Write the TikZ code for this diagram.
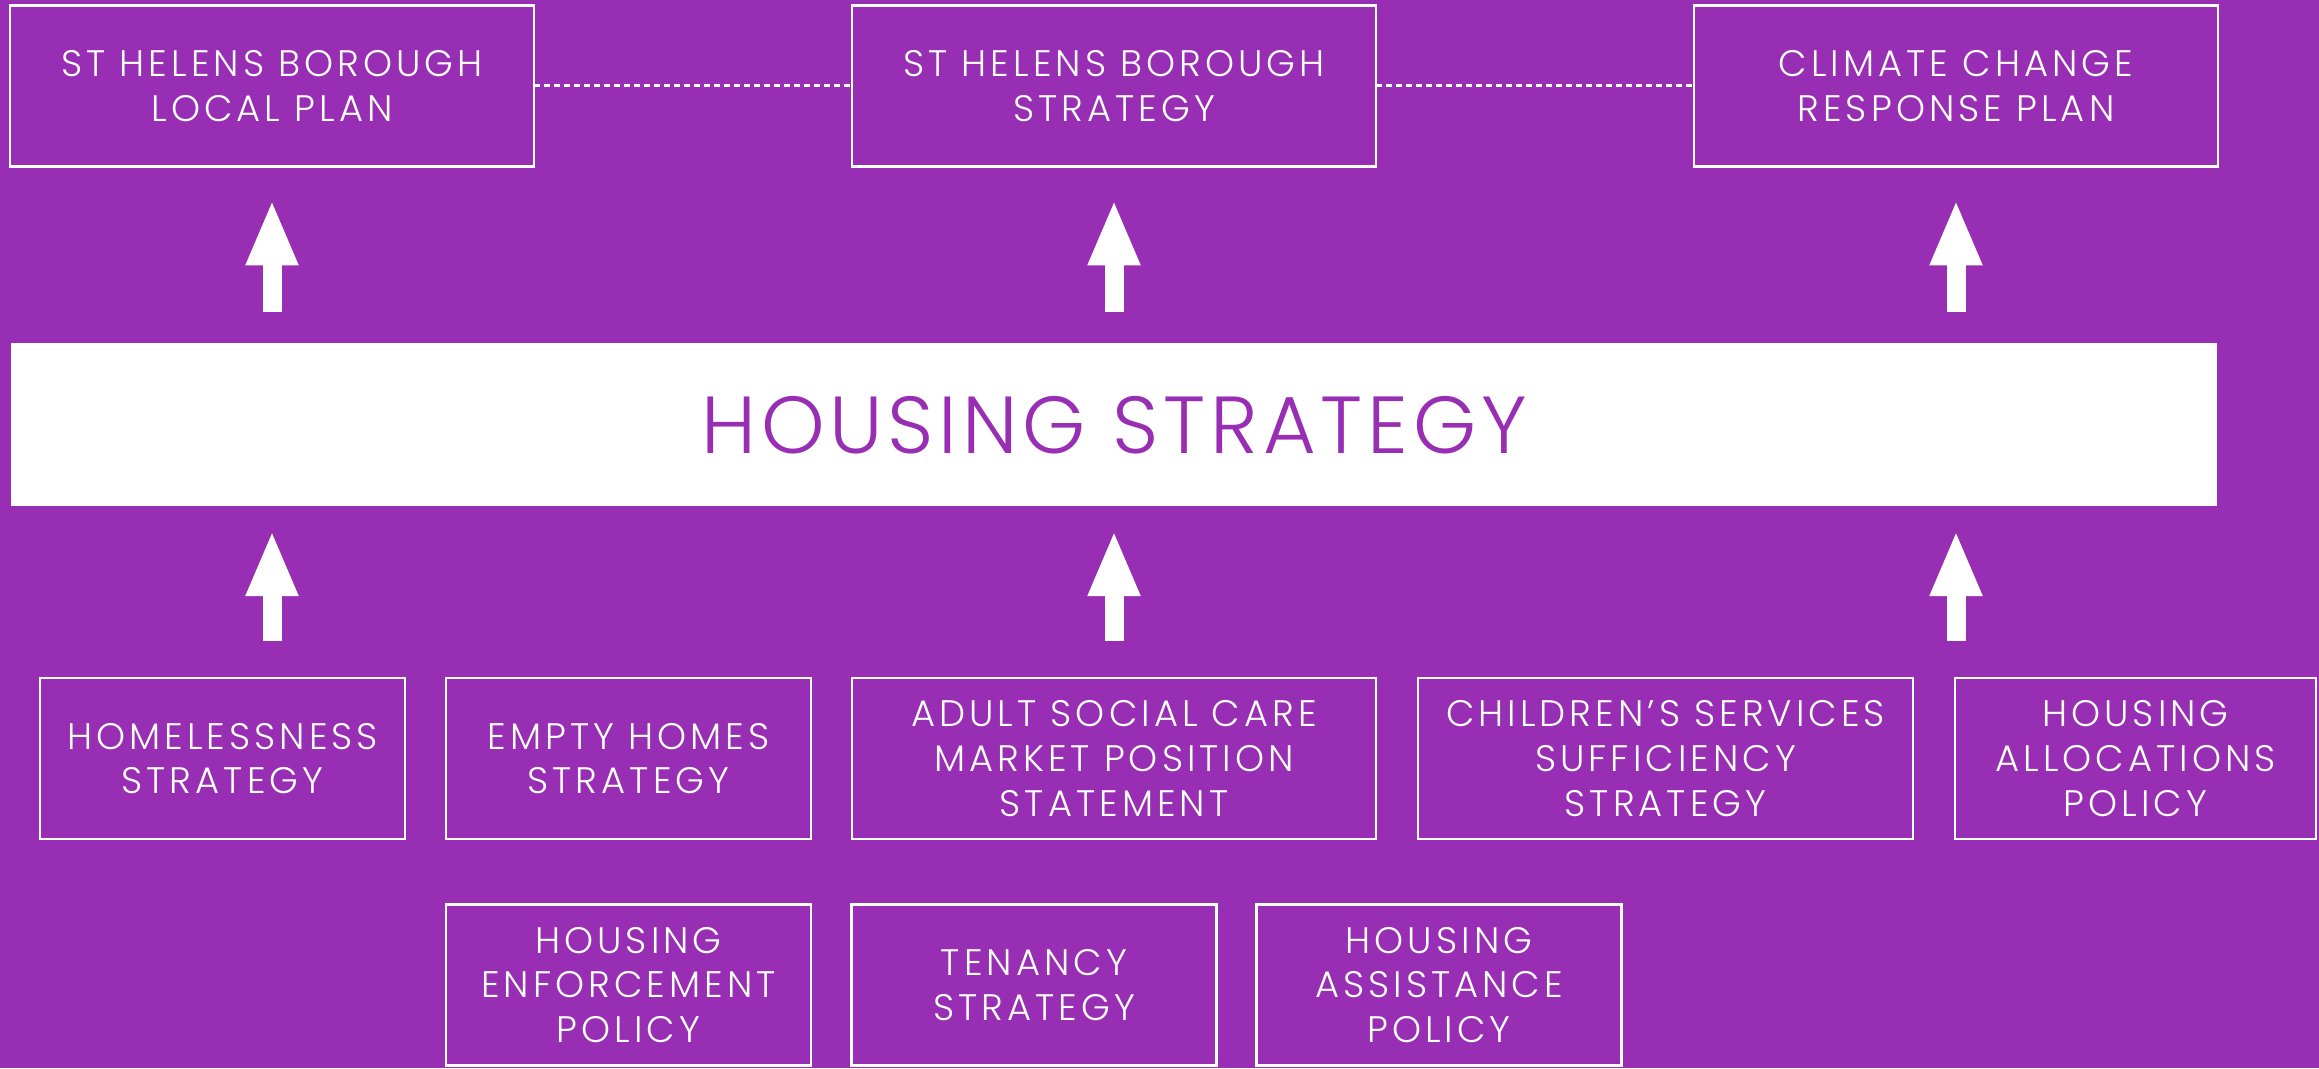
\documentclass[tikz,border=0pt]{standalone}
\usepackage{fontspec}
\setmainfont[LetterSpace=11, UprightFont=* Light]{Poppins}
\newfontfamily\barfont[LetterSpace=6, UprightFont=* Light]{Poppins}
\usetikzlibrary{arrows.meta}
\definecolor{hspurple}{RGB}{152,46,179}

\begin{document}
\begin{tikzpicture}
	[box/.style={draw=white, line width=0.25mm, inner sep=0pt, outer sep=0pt, minimum height=1.61cm, align=center, text=white, font=\fontsize{10.5}{12.7}\selectfont},
	wide/.style={box, minimum width=5.24cm},
	small/.style={box, minimum width=3.65cm},
	up/.style={white, line width=0.19cm, -{Triangle[length=0.66cm, width=0.48cm]}},
	link/.style={white, line width=0.3mm, dash pattern=on 0.6mm off 0.4mm}];

	%Background
	\useasboundingbox (0,0) rectangle (23.19,10.68);
	\fill[hspurple] (0,0) rectangle (23.19,10.68);

	%Top row
	\node[wide] (local) at (2.72,9.82) {ST HELENS BOROUGH\\LOCAL PLAN};
	\node[wide] (borough) at (11.14,9.82) {ST HELENS BOROUGH\\STRATEGY};
	\node[wide] (climate) at (19.56,9.82) {CLIMATE CHANGE\\RESPONSE PLAN};
	\draw[link] (local) -- (borough);
	\draw[link] (borough) -- (climate);

	%Housing strategy
	\node[fill=white, minimum width=22.05cm, minimum height=1.63cm, inner sep=0pt, text=hspurple, font=\barfont\fontsize{23}{28}\selectfont] (housing) at (11.14,6.43) {HOUSING STRATEGY};

	%Row 1
	\node[small] (homeless) at (2.225,3.095) {HOMELESSNESS\\STRATEGY};
	\node[small] (empty) at (6.285,3.095) {EMPTY HOMES\\STRATEGY};
	\node[wide] (adult) at (11.14,3.095) {ADULT SOCIAL CARE\\MARKET POSITION\\STATEMENT};
	\node[box, minimum width=4.95cm] (children) at (16.655,3.095) {CHILDREN’S SERVICES\\SUFFICIENCY\\STRATEGY};
	\node[box, minimum width=3.61cm] (alloc) at (21.355,3.095) {HOUSING\\ALLOCATIONS\\POLICY};

	%Row 2
	\node[small] (enforce) at (6.285,0.83) {HOUSING\\ENFORCEMENT\\POLICY};
	\node[small] (tenancy) at (10.34,0.83) {TENANCY\\STRATEGY};
	\node[small] (assist) at (14.39,0.83) {HOUSING\\ASSISTANCE\\POLICY};

	%Arrows
	\coordinate (rowtop) at (0,3.90);
	\foreach \t in {local,borough,climate}{
		\draw[up, shorten <=0.31cm, shorten >=0.33cm] (housing.north -| \t) -- (\t.south);
		\draw[up, shorten <=0.37cm, shorten >=0.23cm] (rowtop -| \t) -- (housing.south -| \t);
	}
\end{tikzpicture}
\end{document}
